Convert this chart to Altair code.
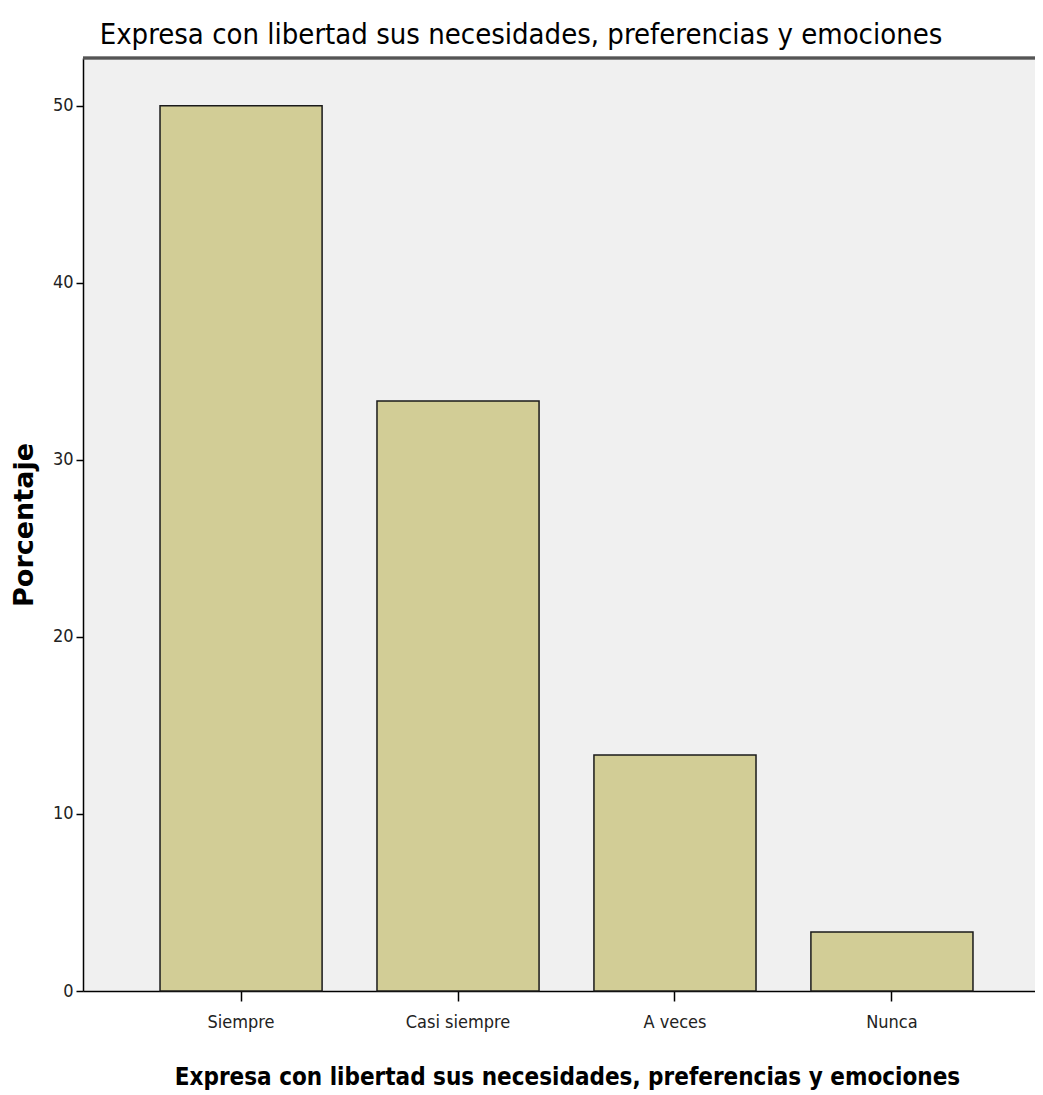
import altair as alt
import pandas as pd

categories = ["Siempre", "Casi siempre", "A veces", "Nunca"]
values = [50.0, 33.33, 13.33, 3.33]
y_ticks = [0, 10, 20, 30, 40, 50]

title_text = "Expresa con libertad sus necesidades, preferencias y emociones"

df = pd.DataFrame({"cat": categories, "pct": values})

W = 952
H = 933
NARROW = "DejaVu Sans Condensed"

bars = alt.Chart(df).mark_bar(
    color="#D2CD96", stroke="#1a1a1a", strokeWidth=1.5
).encode(
    x=alt.X("cat:N", sort=categories,
            scale=alt.Scale(range=[0, 967], paddingInner=0.253, paddingOuter=0.355),
            axis=alt.Axis(title=title_text, labelAngle=0,
                          titleFont=NARROW, titleFontSize=24,
                          titleFontWeight="bold", titleColor="#000",
                          titlePadding=34, titleX=484,
                          labelFont=NARROW, labelFontSize=18,
                          labelColor="#222", labelPadding=12,
                          tickSize=10, tickColor="#000", tickWidth=1.5,
                          domainColor="#000", domainWidth=1.5)),
    y=alt.Y("pct:Q", scale=alt.Scale(domain=[0, 52.7], nice=False),
            axis=alt.Axis(title="Porcentaje", values=y_ticks, grid=False,
                          titleFont="DejaVu Sans", titleFontSize=27,
                          titleFontWeight="bold", titleColor="#000",
                          titlePadding=14,
                          labelFont=NARROW, labelFontSize=18,
                          labelColor="#222", labelPadding=3,
                          tickSize=7, tickColor="#000", tickWidth=1.5,
                          domainColor="#000", domainWidth=1.5)),
)

top_border = alt.Chart(df).mark_rule(color="#555", strokeWidth=2.5).encode(
    x=alt.value(0), x2=alt.value(W), y=alt.value(0)
)

chart = alt.layer(bars, top_border).properties(
    width=W, height=H,
    autosize=alt.AutoSizeParams(type="none"),
    padding={"left": 75, "top": 50, "right": 0, "bottom": 104},
    title=alt.TitleParams(title_text, font=NARROW, fontSize=29,
                          fontWeight="normal", color="#000", anchor="middle",
                          dx=-38, offset=7),
).configure(background="white").configure_view(fill="#F0F0F0", stroke=None)

chart.save("out.html", embed_options={"renderer": "svg", "actions": False})
